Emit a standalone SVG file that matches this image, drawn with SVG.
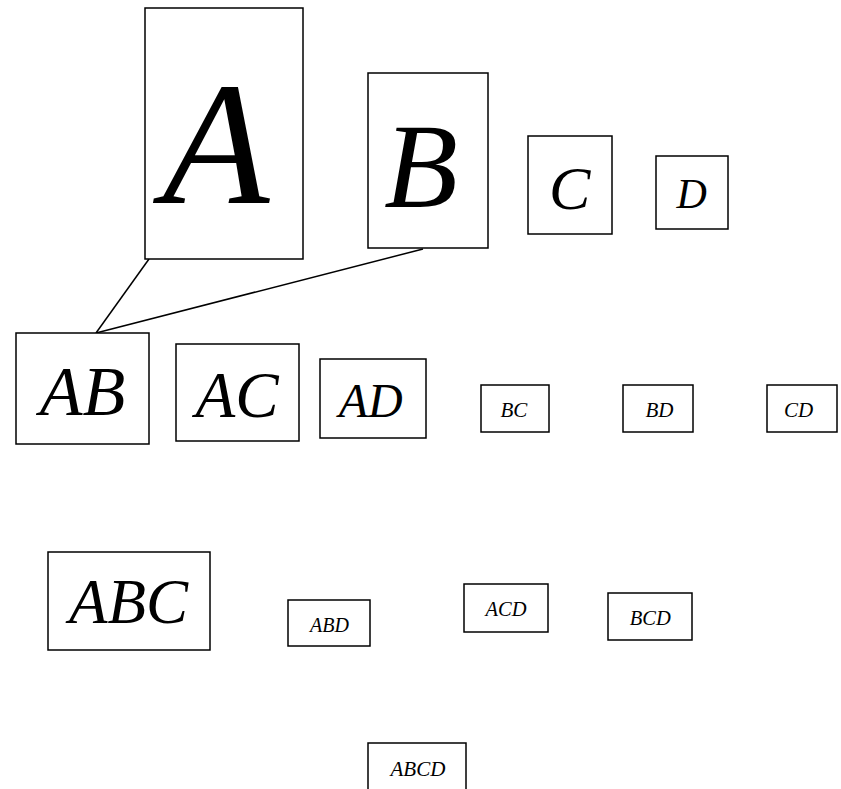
<svg xmlns="http://www.w3.org/2000/svg" width="841" height="789" viewBox="0 0 841 789">
<style>
.box{fill:#fff;stroke:#000;stroke-width:1.5}
.lbl{font-family:"Liberation Serif","Times New Roman",serif;font-style:italic;fill:#000}
.edge{stroke:#000;stroke-width:1.5;fill:none}
</style>
<rect width="841" height="789" fill="#fff"/>
<g id="connectors">
<line class="edge" x1="149" y1="259" x2="96" y2="333"/>
<line class="edge" x1="423" y1="249" x2="96" y2="333"/>
</g>
<g id="A"><rect class="box" x="145" y="8" width="158" height="251"/><text class="lbl" x="162.5" y="203" font-size="175">A</text></g>
<g id="B"><rect class="box" x="368" y="73" width="120" height="175"/><text class="lbl" x="384" y="207" font-size="121">B</text></g>
<g id="C"><rect class="box" x="528" y="136" width="84" height="98"/><text class="lbl" x="549" y="209" font-size="62">C</text></g>
<g id="D"><rect class="box" x="656" y="156" width="72" height="73"/><text class="lbl" x="676.5" y="208" font-size="42">D</text></g>
<g id="AB"><rect class="box" x="16" y="333" width="133" height="111"/><text class="lbl" x="39.8" y="415" font-size="70">AB</text></g>
<g id="AC"><rect class="box" x="176" y="344" width="123" height="97"/><text class="lbl" x="195.5" y="417" font-size="65">AC</text></g>
<g id="AD"><rect class="box" x="320" y="359" width="106" height="79"/><text class="lbl" x="338.8" y="417" font-size="48">AD</text></g>
<g id="BC"><rect class="box" x="481" y="385" width="68" height="47"/><text class="lbl" x="500.4" y="417" font-size="21">BC</text></g>
<g id="BD"><rect class="box" x="623" y="385" width="70" height="47"/><text class="lbl" x="645.4" y="417" font-size="21">BD</text></g>
<g id="CD"><rect class="box" x="767" y="385" width="70" height="47"/><text class="lbl" x="784" y="417" font-size="21">CD</text></g>
<g id="ABC"><rect class="box" x="48" y="552" width="162" height="98"/><text class="lbl" x="69" y="623" font-size="63">ABC</text></g>
<g id="ABD"><rect class="box" x="288" y="600" width="82" height="46"/><text class="lbl" x="310" y="632" font-size="20">ABD</text></g>
<g id="ACD"><rect class="box" x="464" y="584" width="84" height="48"/><text class="lbl" x="485.5" y="616" font-size="20.5">ACD</text></g>
<g id="BCD"><rect class="box" x="608" y="593" width="84" height="47"/><text class="lbl" x="629.7" y="625" font-size="20.5">BCD</text></g>
<g id="ABCD"><rect class="box" x="368" y="743" width="98" height="60"/><text class="lbl" x="390.5" y="776" font-size="21">ABCD</text></g>
</svg>
